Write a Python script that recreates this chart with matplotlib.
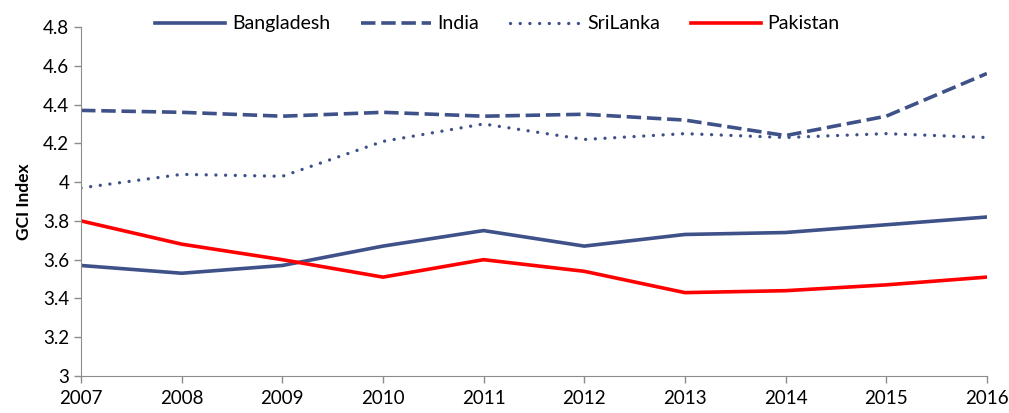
import matplotlib
matplotlib.use("Agg")
import matplotlib.pyplot as plt

plt.rcParams['font.family'] = ['Lato', 'DejaVu Sans']

years = [2007, 2008, 2009, 2010, 2011, 2012, 2013, 2014, 2015, 2016]
bangladesh = [3.57, 3.53, 3.57, 3.67, 3.75, 3.67, 3.73, 3.74, 3.78, 3.82]
india = [4.37, 4.36, 4.34, 4.36, 4.34, 4.35, 4.32, 4.24, 4.34, 4.56]
srilanka = [3.97, 4.04, 4.03, 4.21, 4.30, 4.22, 4.25, 4.23, 4.25, 4.23]
pakistan = [3.80, 3.68, 3.60, 3.51, 3.60, 3.54, 3.43, 3.44, 3.47, 3.51]
yticks = [3, 3.2, 3.4, 3.6, 3.8, 4, 4.2, 4.4, 4.6, 4.8]
ylabels = ["3", "3.2", "3.4", "3.6", "3.8", "4", "4.2", "4.4", "4.6", "4.8"]

BLUE = "#3E5189"
RED = "#FF0000"

fig = plt.figure(figsize=(10.09, 4.13), dpi=100)
ax = fig.add_axes([0.0803, 0.0896, 0.8977, 0.845])

ax.plot(years, bangladesh, color=BLUE, lw=2.6, label="Bangladesh")
ax.plot(years, india, color=BLUE, lw=2.6, ls=(0, (4, 1.6)), label="India")
ax.plot(years, srilanka, color=BLUE, lw=2.4, ls=(0, (0.01, 2.9)),
        dash_capstyle="round", label="SriLanka")
ax.plot(years, pakistan, color=RED, lw=2.6, label="Pakistan")

ax.set_xlim(2007, 2016)
ax.set_ylim(3, 4.8)
ax.set_xticks(years)
ax.set_xticklabels([str(y) for y in years], fontsize=13.5)
ax.set_yticks(yticks)
ax.set_yticklabels(ylabels, fontsize=13.5)
ax.set_ylabel("GCI Index", fontsize=12.5, fontweight="bold", labelpad=8)

for spine in ("top", "right"):
    ax.spines[spine].set_visible(False)
for spine in ("left", "bottom"):
    ax.spines[spine].set_color("#8C8C8C")
ax.tick_params(axis="both", direction="out", length=5, color="#8C8C8C",
               colors="black", width=1)
ax.tick_params(axis="x", pad=5)

fig.legend(loc="center", bbox_to_anchor=(0.493, 0.942), ncol=4, frameon=False,
           fontsize=14, handlelength=3.6, columnspacing=1.6, handletextpad=0.33)

fig.savefig("out.png", dpi=100, facecolor="white")
